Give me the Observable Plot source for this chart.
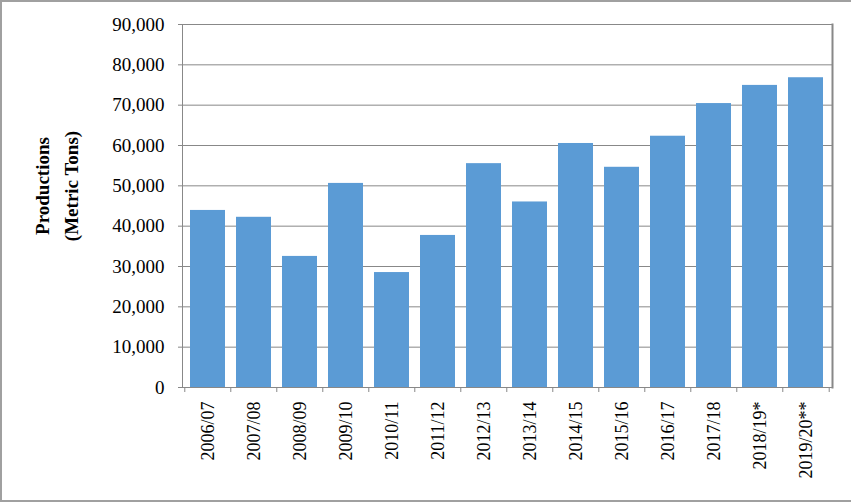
<!DOCTYPE html>
<html>
<head>
<meta charset="utf-8">
<script src="https://cdn.jsdelivr.net/npm/d3@7"></script>
<script src="https://cdn.jsdelivr.net/npm/@observablehq/plot@0.6"></script>
<style>
  html, body { margin: 0; padding: 0; background: white; }
  #wrap { position: relative; width: 851px; height: 504px; overflow: hidden; }
  #border { position: absolute; left: 0; top: 0; width: 851px; height: 502px; box-sizing: border-box;
            border-left: 2px solid #a0a0a0; border-top: 2px solid #a0a0a0; border-bottom: 2px solid #a0a0a0; pointer-events: none; }
</style>
</head>
<body>
<div id="wrap"><div id="border"></div></div>
<script>
const categories = ["2006/07","2007/08","2008/09","2009/10","2010/11","2011/12","2012/13","2013/14","2014/15","2015/16","2016/17","2017/18","2018/19*","2019/20**"];
const production = [43900, 42200, 32500, 50600, 28500, 37700, 55500, 46000, 60500, 54600, 62300, 70400, 74900, 76800];
const yTicks = [0, 10000, 20000, 30000, 40000, 50000, 60000, 70000, 80000, 90000];
const yTitle = ["Productions", "(Metric Tons)"];

const data = categories.map((c, i) => ({cat: c, val: production[i]}));

const W = 851, H = 504;
const mL = 182, mR = 19, mT = 24, mB = 117;
const step = (W - mL - mR) / categories.length;
const plotH = H - mT - mB;
const grey = "#888888";

const chart = Plot.plot({
  width: W, height: H,
  marginLeft: mL, marginRight: mR, marginTop: mT, marginBottom: mB,
  style: {fontFamily: "'Liberation Serif', 'Times New Roman', serif", background: "transparent", color: "black"},
  x: {domain: categories, paddingInner: 0.23, paddingOuter: 0.115, label: null},
  y: {domain: [0, 90000], label: null},
  marks: [
    Plot.gridY(yTicks, {stroke: grey, strokeOpacity: 1, strokeWidth: 1}),
    Plot.barY(data, {x: "cat", y: "val", fill: "#5b9bd5"}),
    Plot.frame({anchor: "left", stroke: grey}),
    Plot.frame({anchor: "right", stroke: grey, strokeWidth: 2}),
    Plot.ruleX(categories, {x: d => d, dx: -step / 2, insetTop: plotH, insetBottom: -5, stroke: grey}),
    Plot.ruleX([categories[categories.length - 1]], {x: d => d, dx: step / 2, insetTop: plotH, insetBottom: -5, stroke: grey}),
    Plot.axisY(yTicks, {tickSize: 4, tickPadding: 14, fontSize: 19, stroke: grey, fill: "black", tickFormat: d3.format(","), label: null}),
    Plot.axisX({tickSize: 0, tickRotate: -90, tickPadding: 14, fontSize: 18, fill: "black", label: null}),
    Plot.text([yTitle.join("\n")], {frameAnchor: "left", text: d => d, rotate: -90, textAnchor: "middle", lineAnchor: "middle",
      dx: -128, dy: -20, fontSize: 19, fontWeight: "bold", lineHeight: 1.5, fill: "black"})
  ]
});
document.getElementById("wrap").prepend(chart);
</script>
</body>
</html>
